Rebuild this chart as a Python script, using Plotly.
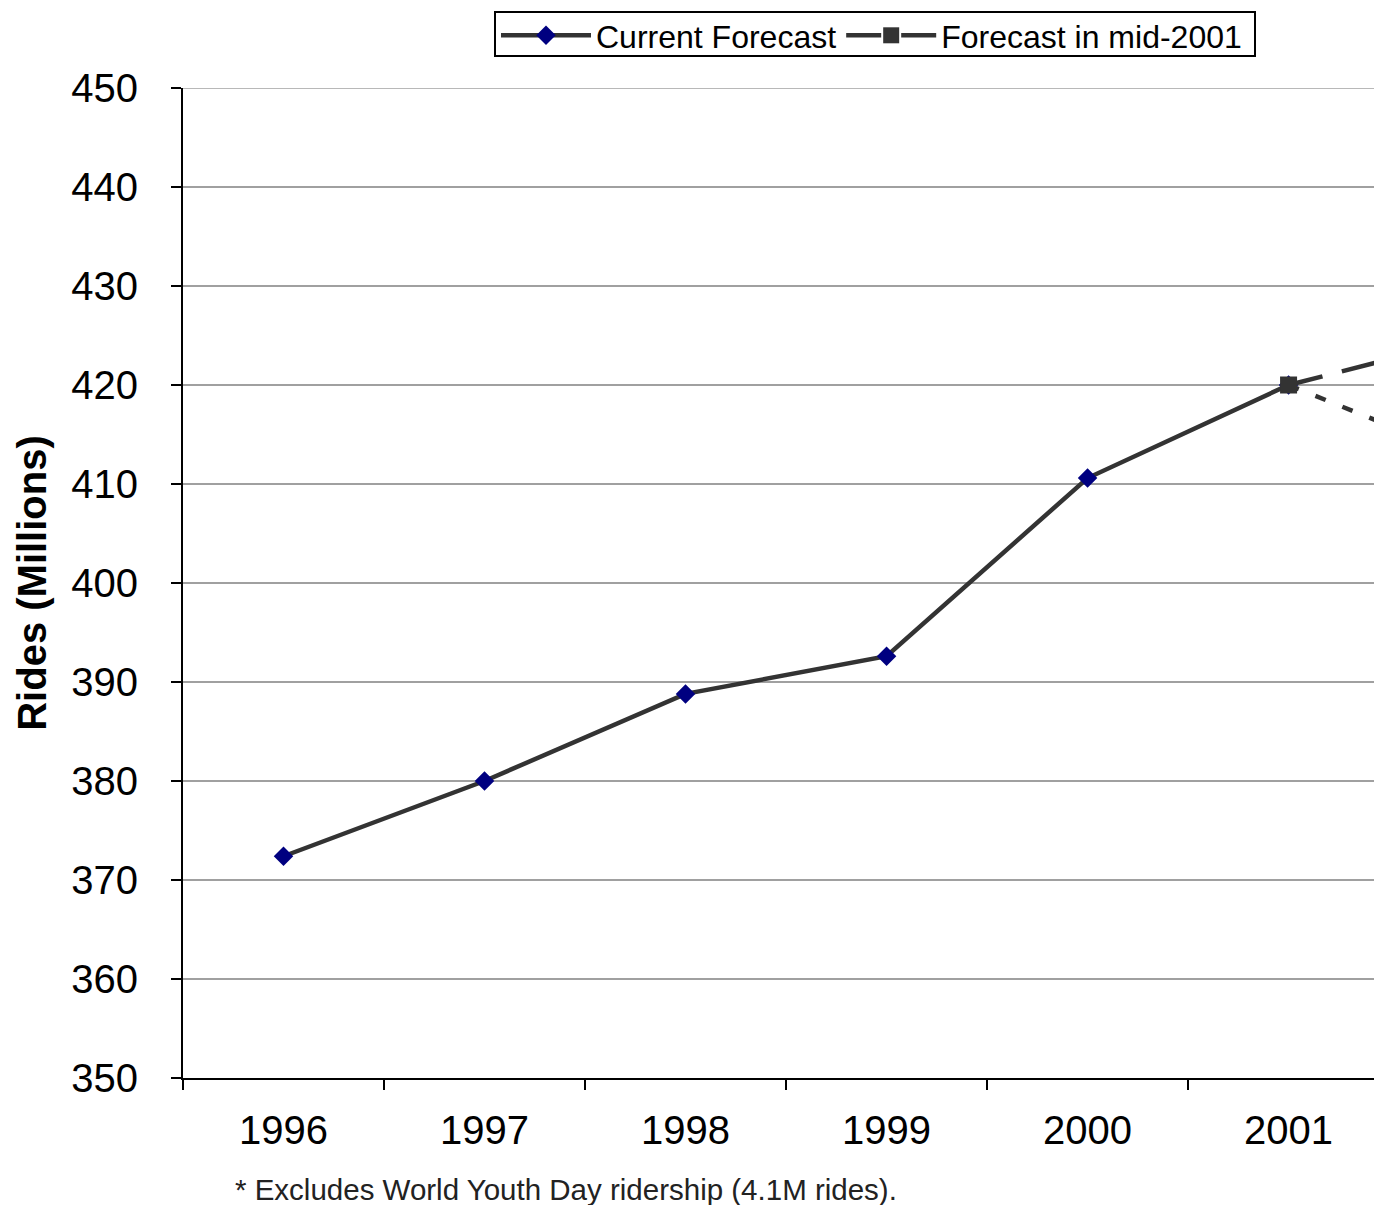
import plotly.graph_objects as go

years = ["1996", "1997", "1998", "1999", "2000", "2001", "2002"]
current_years = ["1996", "1997", "1998", "1999", "2000", "2001"]
current_values = [372.4, 380.0, 388.8, 392.6, 410.6, 420.0]
current_proj_years = ["2001", "2002"]
current_proj_values = [420.0, 411.8]
mid2001_years = ["2001", "2002"]
mid2001_values = [420.0, 425.2]
y_ticks = [350, 360, 370, 380, 390, 400, 410, 420, 430, 440, 450]

FONT = "Arial, 'Liberation Sans', sans-serif"
LINE = "#333333"

W, H = 1374, 1205
ML, MT, MB = 183, 88, 127
PW = W - ML
PH = H - MT - MB


def px_x(p):
    return (p - ML) / PW


def px_y(p):
    return (H - MB - p) / PH


fig = go.Figure()

# Current forecast projection beyond 2001 (short dashes)
fig.add_trace(go.Scatter(
    x=current_proj_years, y=current_proj_values, mode="lines",
    line=dict(color=LINE, width=4.5, dash="11px,18px"),
    showlegend=False, hoverinfo="skip",
))

fig.add_trace(go.Scatter(
    x=current_years, y=current_values, mode="lines+markers",
    name="Current Forecast",
    line=dict(color=LINE, width=4.5),
    marker=dict(symbol="diamond", size=15, color="#000080"),
))

fig.add_trace(go.Scatter(
    x=mid2001_years, y=mid2001_values, mode="lines+markers",
    name="Forecast in mid-2001",
    line=dict(color=LINE, width=4.5, dash="35px,20px"),
    marker=dict(symbol="square", size=17, color=LINE),
))

fig.update_layout(
    width=W, height=H,
    margin=dict(l=ML, r=0, t=MT, b=MB),
    paper_bgcolor="white", plot_bgcolor="white",
    font=dict(family=FONT, color="black"),
    showlegend=True,
    legend=dict(
        orientation="h", x=px_x(496), y=px_y(8),
        xanchor="left", yanchor="top",
        font=dict(size=32, family=FONT, color="black"),
        borderwidth=0, bgcolor="rgba(0,0,0,0)",
        itemwidth=90,
    ),
    xaxis=dict(
        type="category", categoryorder="array", categoryarray=years,
        range=[-0.5, 5.425],
        tickson="boundaries", ticks="outside", ticklen=10, tickwidth=2,
        tickcolor="black",
        showline=True, linecolor="black", linewidth=2,
        showgrid=False, zeroline=False,
        tickfont=dict(size=40, family=FONT, color="black"),
        ticklabelstandoff=16,
    ),
    yaxis=dict(
        range=[350, 450], tickvals=y_ticks,
        ticks="outside", ticklen=10, tickwidth=2, tickcolor="black",
        showline=True, linecolor="black", linewidth=2,
        showgrid=True, gridcolor="#a0a0a0", gridwidth=1.5,
        zeroline=False,
        tickfont=dict(size=40, family=FONT, color="black"),
        ticklabelstandoff=25,
        title=dict(text="<b>Rides (Millions)</b>",
                   font=dict(size=40, family=FONT, color="black"),
                   standoff=12),
    ),
    shapes=[
        dict(type="line", xref="paper", yref="y", x0=0, x1=1,
             y0=450, y1=450, line=dict(color="#a0a0a0", width=1.5),
             layer="below"),
        dict(type="rect", xref="paper", yref="paper",
             x0=px_x(495), x1=px_x(1255), y0=px_y(56), y1=px_y(12),
             line=dict(color="black", width=2), fillcolor="rgba(0,0,0,0)"),
    ],
    annotations=[dict(
        text="* Excludes World Youth Day ridership (4.1M rides).",
        xref="paper", yref="paper", x=px_x(233), y=px_y(1189),
        xanchor="left", yanchor="middle", showarrow=False,
        font=dict(size=29.5, family=FONT, color="#222222"),
    )],
)

fig.write_html("out.html", config={"displayModeBar": False},
               post_script="document.body.style.margin='0px';")
